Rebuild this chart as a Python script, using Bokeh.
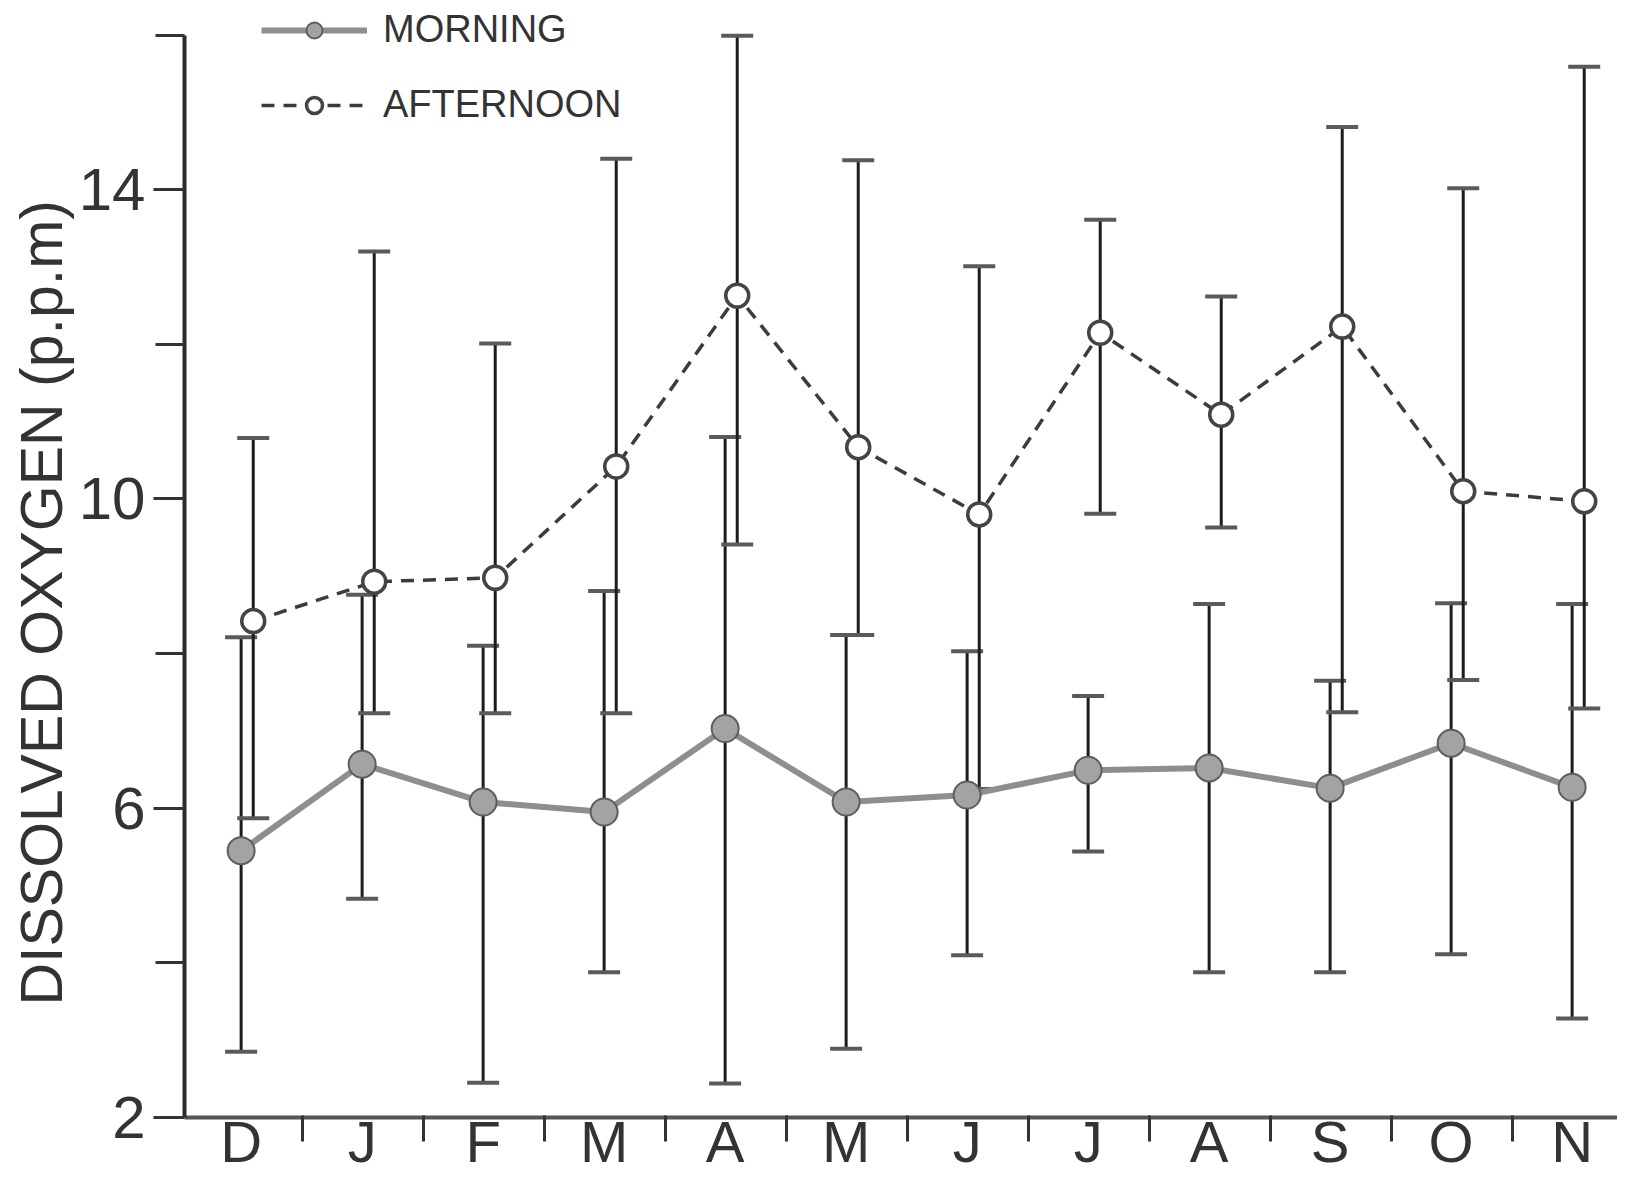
from bokeh.plotting import figure
from bokeh.models import (ColumnDataSource, Whisker, TeeHead, FixedTicker,
                          Legend, LegendItem, Title)
from bokeh.embed import file_html
from bokeh.resources import INLINE

# ---- data ----
months = ["D", "J", "F", "M", "A", "M", "J", "J", "A", "S", "O", "N"]
morning_mean = [5.45, 6.57, 6.08, 5.95, 7.03, 6.08, 6.17, 6.49, 6.52, 6.26, 6.84, 6.27]
morning_high = [8.21, 8.76, 8.10, 8.81, 10.80, 8.24, 8.03, 7.45, 8.64, 7.65, 8.65, 8.64]
morning_low = [2.85, 4.83, 2.45, 3.88, 2.44, 2.89, 4.10, 5.44, 3.88, 3.88, 4.11, 3.28]
afternoon_mean = [8.42, 8.93, 8.98, 10.42, 12.63, 10.67, 9.80, 12.15, 11.09, 12.23, 10.10, 9.97]
afternoon_high = [10.79, 13.20, 12.01, 14.40, 15.99, 14.38, 13.01, 13.61, 12.62, 14.81, 14.02, 15.59]
afternoon_low = [5.87, 7.23, 7.23, 7.23, 9.41, 8.24, 6.25, 9.81, 9.63, 7.24, 7.66, 7.29]
y_major = [2, 6, 10, 14]
y_minor = [4, 8, 12, 16]

# ---- styling / layout constants ----
FONT = "Liberation Sans"
TXT = "#333333"
OFF_M, OFF_A = 0.0, 0.1
idx = list(range(len(months)))

src_m = ColumnDataSource(dict(x=[i + OFF_M for i in idx], mean=morning_mean,
                              upper=morning_high, lower=morning_low))
src_a = ColumnDataSource(dict(x=[i + OFF_A for i in idx], mean=afternoon_mean,
                              upper=afternoon_high, lower=afternoon_low))

p = figure(width=1617, height=1176, x_range=(-0.468, 11.375), y_range=(2, 16.447),
           output_backend="svg", toolbar_location=None,
           min_border_left=184, min_border_top=0, min_border_right=0, min_border_bottom=40,
           outline_line_color=None, background_fill_color="white")
p.xgrid.visible = False
p.ygrid.visible = False

# error bars
for src in (src_m, src_a):
    w = Whisker(source=src, base="x", upper="upper", lower="lower", dimension="height",
                line_color="#1c1c1c", line_width=3,
                upper_head=TeeHead(size=32, line_width=4, line_color="#5a5a5a"),
                lower_head=TeeHead(size=32, line_width=4, line_color="#5a5a5a"))
    p.add_layout(w)

rm = p.line("x", "mean", source=src_m, line_color="#8e8e8e", line_width=6)
sm = p.scatter("x", "mean", source=src_m, size=27, fill_color="#a3a3a3",
               line_color="#5e5e5e", line_width=2)
ra = p.line("x", "mean", source=src_a, line_color="#3c3c3c", line_width=3.5,
            line_dash="13 9")
sa = p.scatter("x", "mean", source=src_a, size=23, fill_color="white",
               line_color="#444444", line_width=3.5)

# x axis: month letters centred in the bands, tick marks between months
xa = p.xaxis[0]
xa.ticker = FixedTicker(ticks=idx, minor_ticks=[i + 0.51 for i in idx[:-1]])
xa.major_label_overrides = {i: m for i, m in zip(idx, months)}
xa.major_tick_out = 0
xa.major_tick_in = 0
xa.minor_tick_out = 24
xa.minor_tick_in = 2
xa.minor_tick_line_width = 3
xa.minor_tick_line_color = "#333333"
xa.axis_line_width = 4
xa.axis_line_color = "#555555"
xa.major_label_text_font = FONT
xa.major_label_text_font_size = "58px"
xa.major_label_text_color = TXT
xa.major_label_standoff = -33

# y axis
ya = p.yaxis[0]
ya.ticker = FixedTicker(ticks=y_major, minor_ticks=y_minor)
ya.bounds = (2, 16)
ya.major_tick_out = 31
ya.major_tick_in = 0
ya.minor_tick_out = 29
ya.minor_tick_in = 0
ya.major_tick_line_width = 3
ya.minor_tick_line_width = 3
ya.major_tick_line_color = "#333333"
ya.minor_tick_line_color = "#333333"
ya.axis_line_width = 4
ya.axis_line_color = "#2a2a2a"
ya.major_label_text_font = FONT
ya.major_label_text_font_size = "60px"
ya.major_label_text_color = TXT
ya.major_label_standoff = 8

ytitle = Title(text="DISSOLVED  OXYGEN (p.p.m)", align="left", offset=112,
               text_font=FONT, text_font_size="59px", text_color=TXT,
               text_font_style="normal", standoff=2)
p.add_layout(ytitle, "left")

legend = Legend(items=[LegendItem(label="MORNING", renderers=[rm, sm]),
                       LegendItem(label="AFTERNOON", renderers=[ra, sa])],
                location=(77, 991), glyph_width=106, glyph_height=40,
                label_text_font=FONT, label_text_font_size="38px",
                label_text_color=TXT, label_standoff=16, spacing=32,
                padding=0, margin=0, border_line_alpha=0, background_fill_alpha=0)
p.add_layout(legend)

open("out.html", "w").write(file_html(p, INLINE))
